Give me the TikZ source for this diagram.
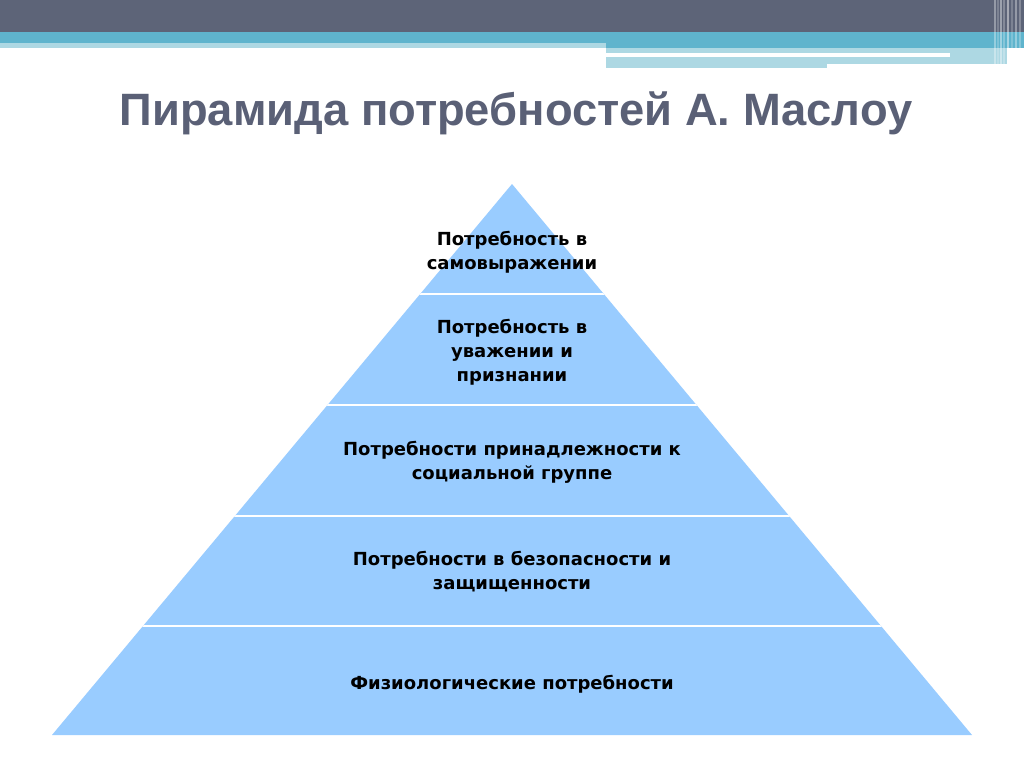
\documentclass[tikz,border=0pt]{standalone}
\usepackage{fontspec}
\setmainfont{Liberation Sans}
\newfontfamily\bodyfont{DejaVu Sans}
\usepackage{tikz}

\definecolor{barDark}{HTML}{5D6478}
\definecolor{barTeal}{HTML}{5FB4CD}
\definecolor{barLight}{HTML}{ADD8E3}
\definecolor{pyrFill}{HTML}{99CCFF}
\definecolor{titleGray}{HTML}{5A6076}

\tikzset{
  level/.style={align=center, font=\bodyfont\bfseries\fontsize{13.5}{18}\selectfont, text=black, inner sep=0pt},
  sep/.style={white, line width=1.6pt}
}

\begin{document}
\begin{tikzpicture}[x=0.75pt,y=-0.75pt]
\useasboundingbox (0,0) rectangle (1024,767);
\fill[white] (0,0) rectangle (1024,767);

% header bars
\fill[barDark] (0,0) rectangle (1024,32);
\fill[barTeal] (0,32) rectangle (1024,48);
\fill[barLight] (0,43) rectangle (606,48);
\fill[barLight] (606,48) rectangle (1007,64);
\fill[white] (606,53) rectangle (950,57);
\fill[barLight] (606,64) rectangle (827,68);
\foreach \x/\o in {995/0.35,998/0.2,1001/0.4,1004/0.25,1008/0.45,1012/0.2,1016/0.35,1020/0.25}
  \draw[white, opacity=\o, line width=1.2pt] (\x,0) -- (\x,68);

% title
\node[anchor=base, font=\bfseries\fontsize{34}{40}\selectfont, text=titleGray] (title) at (516,125) {Пирамида потребностей А. Маслоу};

% pyramid
\coordinate (apex) at (512,184);
\coordinate (baseL) at (52,735);
\coordinate (baseR) at (972,735);
\fill[pyrFill] (apex) -- (baseL) -- (baseR) -- cycle;
\begin{scope}
  \clip (apex) -- (baseL) -- (baseR) -- cycle;
  \foreach \y in {294,405,516,626}
    \draw[sep] (0,\y) -- (1024,\y);
\end{scope}

\node[level] (selfexp) at (512,252) {Потребность в\\самовыражении};
\node[level] (esteem) at (512,352) {Потребность в\\уважении и\\признании};
\node[level] (social) at (512,462) {Потребности принадлежности к\\социальной группе};
\node[level] (safety) at (512,572) {Потребности в безопасности и\\защищенности};
\node[level] (physio) at (512,684) {Физиологические потребности};
\end{tikzpicture}
\end{document}
